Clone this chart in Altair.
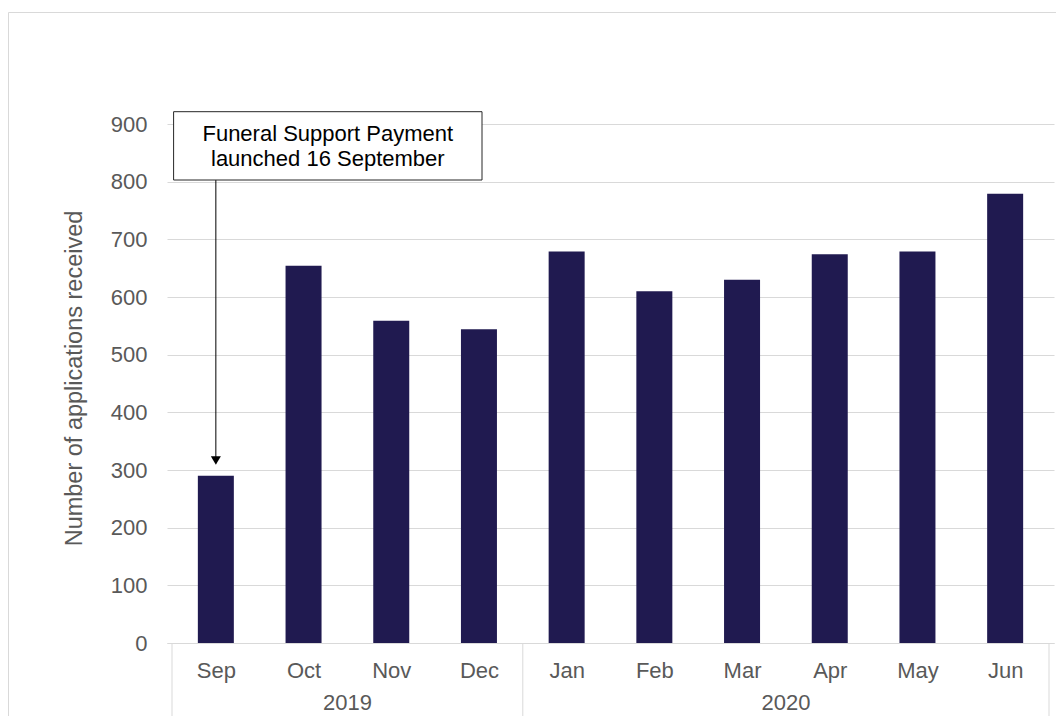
import json
import altair as alt
import pandas as pd

# ---- data ----
months = ["Sep", "Oct", "Nov", "Dec", "Jan", "Feb", "Mar", "Apr", "May", "Jun"]
years = ["2019", "2019", "2019", "2019", "2020", "2020", "2020", "2020", "2020", "2020"]
applications = [290, 654, 559, 544, 679, 610, 630, 674, 679, 779]
y_ticks = [0, 100, 200, 300, 400, 500, 600, 700, 800, 900]
annotation_lines = ["Funeral Support Payment", "launched 16 September"]
annotation_month = "Sep"
y_title = "Number of applications received"

# ---- tables ----
df = pd.DataFrame({"idx": list(range(len(months))), "month": months,
                   "year": years, "applications": applications})
bounds = sorted(set([df.groupby("year")["idx"].min().min() - 0.5] +
                    list(df.groupby("year")["idx"].max() + 0.5)))
sep_df = pd.DataFrame({"b": bounds})
ann_df = pd.DataFrame({"idx": [months.index(annotation_month)],
                       "label": [annotation_lines]})

GREY = "#595959"
LINE = "#d9d9d9"
BAR = "#201a50"
FONT = "Liberation Sans"
W, H = 887, 519
PAD = {"left": 159, "top": 116, "right": 2, "bottom": 73}

x_scale = alt.Scale(domain=[-0.5, len(months) - 0.5], nice=False, zero=False)
label_expr = json.dumps(months) + "[datum.value]"

bars = alt.Chart(df).mark_bar(width=36, color=BAR).encode(
    x=alt.X("idx:Q", scale=x_scale,
            axis=alt.Axis(values=list(range(len(months))), labelExpr=label_expr,
                          title=None, grid=False, ticks=False, tickSize=0,
                          domainColor=LINE, domainWidth=1, labelFont=FONT,
                          labelFontSize=22, labelColor=GREY, labelPadding=17,
                          labelFlush=False, labelOverlap=False)),
    y=alt.Y("applications:Q", scale=alt.Scale(domain=[0, 900], nice=False),
            axis=alt.Axis(values=y_ticks, title=y_title, grid=True, gridColor=LINE,
                          ticks=False, tickSize=0, domain=False, labelFont=FONT,
                          labelFontSize=22, labelColor=GREY, labelPadding=20,
                          titleFont=FONT, titleFontSize=23.5, titleColor=GREY,
                          titleFontWeight="normal", titleX=-86, titleY=254,
                          titleBaseline="alphabetic", titleAngle=270)),
)

year_text = alt.Chart(df).transform_aggregate(
    mid="mean(idx)", groupby=["year"]
).mark_text(font=FONT, fontSize=22, color=GREY, baseline="middle", align="center").encode(
    x=alt.X("mid:Q", scale=x_scale),
    y=alt.value(579),
    text="year:N",
)

separators = alt.Chart(sep_df).mark_rule(color=LINE, strokeWidth=1).encode(
    x=alt.X("b:Q", scale=x_scale),
    y=alt.value(H),
    y2=alt.value(H + PAD["bottom"]),
)

border = alt.Chart(ann_df).mark_rect(fill=None, stroke=LINE, strokeWidth=1).encode(
    x=alt.value(-PAD["left"] + 0.5), x2=alt.value(W + PAD["right"] + 5),
    y=alt.value(-111.5), y2=alt.value(H + PAD["bottom"] + 5),
)

box = alt.Chart(ann_df).mark_rect(fill="white", stroke="#262626", strokeWidth=1).encode(
    x=alt.value(6.6), x2=alt.value(315),
    y=alt.value(-12.3), y2=alt.value(56),
)

box_text = alt.Chart(ann_df).mark_text(
    font=FONT, fontSize=22, color="#000000", align="center",
    baseline="alphabetic", lineHeight=25
).encode(
    x=alt.value(160.8), y=alt.value(16.7), text="label",
)

arrow = alt.Chart(ann_df).mark_rule(color="#000000", strokeWidth=1).encode(
    x=alt.X("idx:Q", scale=x_scale), y=alt.value(56), y2=alt.value(334),
)

arrow_head = alt.Chart(ann_df).mark_point(
    shape="triangle-down", filled=True, color="#000000", size=100, opacity=1
).encode(
    x=alt.X("idx:Q", scale=x_scale), y=alt.value(336.5),
)

chart = alt.layer(
    border, bars, separators, year_text, arrow, arrow_head, box, box_text
).properties(
    width=W, height=H,
    autosize=alt.AutoSizeParams(type="none"),
    padding=PAD,
    background="white",
).configure_view(strokeWidth=0)

chart.save("out.html", embed_options={"renderer": "svg", "actions": False})
